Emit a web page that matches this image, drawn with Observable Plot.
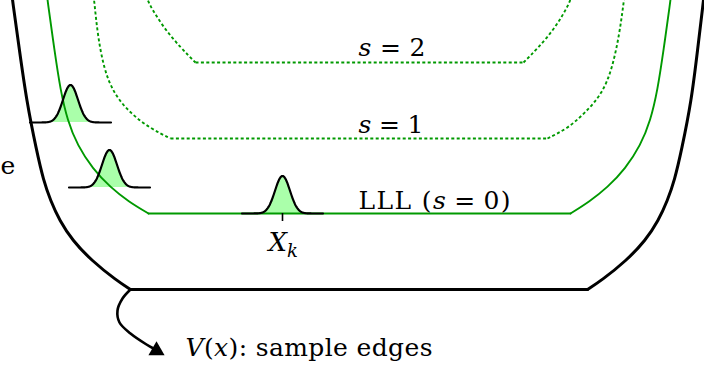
<!DOCTYPE html>
<html><head><meta charset="utf-8">
<script src="https://cdn.jsdelivr.net/npm/d3@7"></script>
<script src="https://cdn.jsdelivr.net/npm/@observablehq/plot@0.6"></script>
<style>html,body{margin:0;padding:0;background:#fff;} #chart svg{display:block;}</style>
</head><body><div id="chart"></div>
<script>
// Schematic data (x: position, E: energy)
const vLeft  = [[1.1,37.6],[1.2,36.6],[1.9,31.6],[2.6,26.6],[3.6,21.6],[4.3,18.6],[5.0,16.6],[5.9,14.6],[7.2,12.6],[9.1,10.6],[11.6,8.6],[13.0,7.7]];
const vFlat  = [[13.0,7.7],[58.7,7.7]];
const vRight = [[58.7,7.7],[60.1,8.6],[62.6,10.6],[64.5,12.6],[65.8,14.6],[66.7,16.6],[67.4,18.6],[68.1,21.6],[69.1,26.6],[69.7,31.6],[70.3,36.6],[70.4,37.6]];

const lllLeft  = [[4.6,37.6],[4.7,36.6],[5.4,31.6],[6.0,27.6],[6.7,24.6],[7.7,22.1],[9.2,19.8],[11.0,17.9],[12.8,16.5],[14.8,15.3]];
const lllFlat  = [[14.8,15.3],[57.0,15.3]];
const lllRight = [[57.0,15.3],[58.9,16.5],[60.7,17.9],[62.5,19.8],[64.0,22.1],[65.0,24.6],[65.7,27.6],[66.3,31.6],[67.0,36.6],[67.1,37.6]];

const s1Left  = [[9.3,37.1],[9.4,36.3],[9.7,33.3],[10.3,29.9],[11.3,27.3],[13.0,25.3],[15.0,23.8],[17.0,22.8]];
const s1Flat  = [[17.0,22.8],[54.7,22.8]];
const s1Right = [[54.7,22.8],[56.7,23.8],[58.4,25.3],[60.2,27.3],[61.2,29.9],[61.9,33.3],[62.3,36.3],[62.4,37.1]];

const s2Left  = [[14.6,37.1],[14.8,36.3],[16.3,33.9],[18.0,31.9],[19.5,30.4]];
const s2Flat  = [[19.5,30.4],[52.3,30.4]];
const s2Right = [[52.3,30.4],[53.8,31.9],[55.5,33.9],[56.9,36.3],[57.1,37.1]];

// Gaussian wave packets: centre, baseline energy
const packetX    = [7.0, 10.9, 28.2];
const packetBase = [24.4, 17.9, 15.3];
const packetAmp  = 3.75;
const packetSigma = 0.75;
const packetHalf = 4.05;

// X_k marker
const markerX = [28.2];
const markerE = [15.3];

// Arrow from V(x) to its label
const arrowPath = [[13.0,7.7],[12.2,6.8],[11.7,5.6],[11.9,4.4],[13.0,3.3],[14.6,2.2],[15.3,1.8]];
const arrowHead = [[15.6,1.6]];

// Labels
const labelText = ["s = 2", "s = 1", "LLL (s = 0)", "Xk", "V(x): sample edges"];
const labelX    = [35.8, 35.8, 35.8, 26.8, 18.5];
const labelE    = [31.1, 23.4, 15.8, 11.6, 1.1];
const cutText = ["e"];
const cutX = [0.0];
const cutE = [19.3];

const pts = (arr, z) => arr.map(([x, e]) => ({x, e, z}));
const curve = (l, f, r, n) => [...pts(l, n + "L"), ...pts(f, n + "F"), ...pts(r, n + "R")];

const vData = curve(vLeft, vFlat, vRight, "V");
const lllData = curve(lllLeft, lllFlat, lllRight, "LLL");
const dotData = [...curve(s1Left, s1Flat, s1Right, "s1"), ...curve(s2Left, s2Flat, s2Right, "s2")];

const gData = [];
packetX.forEach((c, k) => {
  for (let d = -packetHalf; d <= packetHalf + 1e-9; d += 0.05) {
    gData.push({k, x: c + d, base: packetBase[k], e: packetBase[k] + packetAmp * Math.exp(-(d * d) / (2 * packetSigma * packetSigma))});
  }
});

const labels = labelText.map((t, i) => ({t, x: labelX[i], e: labelE[i]}));
const cut = cutText.map((t, i) => ({t, x: cutX[i], e: cutE[i]}));

const green = "#009900";
const lightGreen = "#aaffaa";
const font = "DejaVu Serif";

const chart = Plot.plot({
  width: 704, height: 366, margin: 0,
  x: {domain: [0, 70.4], axis: null},
  y: {domain: [0, 36.6], axis: null},
  marks: [
    Plot.areaY(gData, {x: "x", y1: "base", y2: "e", z: "k", fill: lightGreen}),
    Plot.line(dotData, {x: "x", y: "e", z: "z", curve: "basis", stroke: green, strokeWidth: 1.9, strokeDasharray: "3,2.4", strokeLinecap: "butt"}),
    Plot.line(lllData, {x: "x", y: "e", z: "z", curve: "basis", stroke: green, strokeWidth: 1.9}),
    Plot.line(vData, {x: "x", y: "e", z: "z", curve: "basis", stroke: "black", strokeWidth: 3}),
    Plot.line(gData, {x: "x", y: "e", z: "k", stroke: "black", strokeWidth: 2.2}),
    Plot.ruleX(markerX, {x: d => d, y1: markerE[0], y2: markerE[0] - 0.8, stroke: "black", strokeWidth: 1.6}),
    Plot.line(arrowPath, {x: d => d[0], y: d => d[1], curve: "catmull-rom", stroke: "black", strokeWidth: 2.6}),
    Plot.dot(arrowHead, {x: d => d[0], y: d => d[1], symbol: "triangle", r: 6, rotate: 120, fill: "black", stroke: "none"}),
    Plot.text(labels, {x: "x", y: "e", text: "t", textAnchor: "start", lineAnchor: "bottom", fontSize: 25, fontFamily: font, fill: "black"}),
    Plot.text(cut, {x: "x", y: "e", text: "t", textAnchor: "start", lineAnchor: "bottom", fontSize: 25, fontFamily: font, fill: "black"})
  ]
});

// Math styling (italic variables, subscript, math spacing)
const rich = {
  "s = 2": {html: '<tspan font-style="italic">s</tspan><tspan dx="8">=</tspan><tspan dx="8">2</tspan>', len: 67},
  "s = 1": {html: '<tspan font-style="italic">s</tspan><tspan dx="8">=</tspan><tspan dx="8">1</tspan>', len: 65},
  "LLL (s = 0)": {html: 'LLL (<tspan font-style="italic">s</tspan><tspan dx="7">=</tspan><tspan dx="7">0)</tspan>', len: 152},
  "Xk": {html: '<tspan font-style="italic" font-size="26">X</tspan><tspan font-style="italic" font-size="18" dy="6">k</tspan>'},
  "V(x): sample edges": {html: '<tspan font-style="italic">V</tspan>(<tspan font-style="italic">x</tspan>): sample edges', len: 247}
};
chart.querySelectorAll("text").forEach(el => {
  el.style.fontFamily = "'DejaVu Serif', 'Liberation Serif', serif";
  const r = rich[el.textContent];
  if (!r) return;
  el.innerHTML = r.html;
  if (r.len) { el.setAttribute("textLength", r.len); el.setAttribute("lengthAdjust", "spacing"); }
});
document.getElementById("chart").appendChild(chart);
</script>
</body></html>
